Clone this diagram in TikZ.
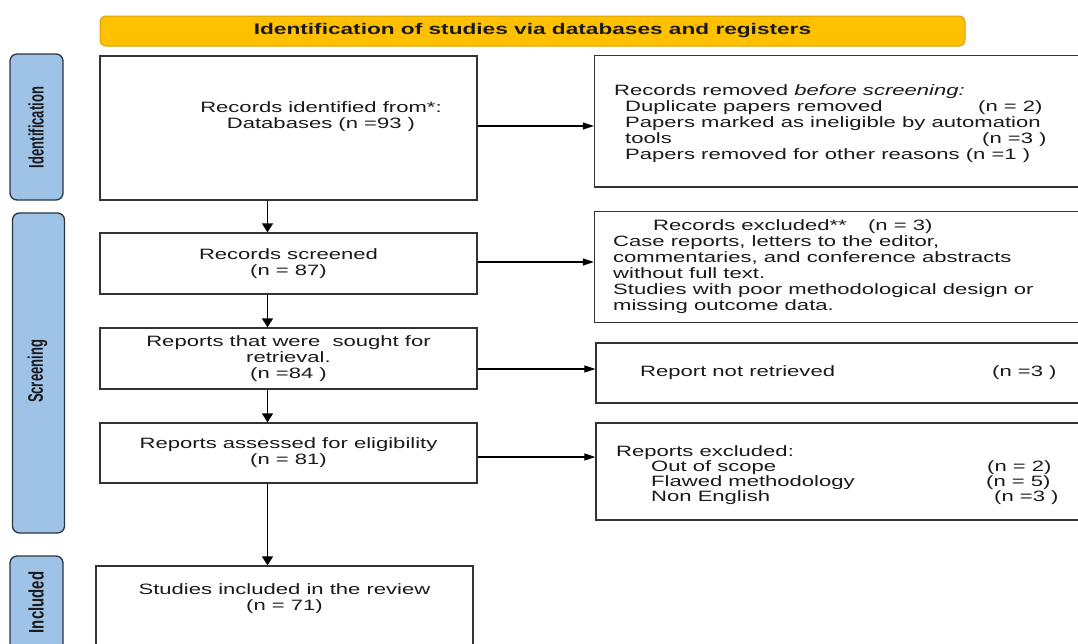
\documentclass[tikz,border=0pt]{standalone}
\usepackage{fontspec}
\setmainfont{Liberation Sans}[FakeStretch=1.47]
\newfontfamily\lblfont{Liberation Sans}[FakeStretch=0.62]
\usetikzlibrary{arrows.meta}
\definecolor{lblfill}{HTML}{9FC3E7}
\definecolor{lbldraw}{HTML}{2B3540}
\definecolor{banfill}{HTML}{FFC000}
\definecolor{bandraw}{HTML}{D9A300}
\definecolor{boxdraw}{HTML}{333333}
\definecolor{txtc}{HTML}{1A1A1A}
\tikzset{
  box/.style={draw=boxdraw, line width=1.3pt, fill=white, inner sep=0pt, rectangle},
  lbl/.style={draw=lbldraw, line width=1.3pt, fill=lblfill, rounded corners=7pt, inner sep=0pt, rectangle},
  lbltxt/.style={rotate=90, inner sep=0pt, text=txtc, font=\lblfont\bfseries\fontsize{21}{21}\selectfont},
  banner/.style={draw=bandraw, line width=1pt, fill=banfill, rounded corners=6pt, inner sep=0pt, rectangle, text=txtc, font=\bfseries\fontsize{15.4}{16}\selectfont},
  txt/.style={inner sep=0pt, text=txtc, font=\fontsize{15}{16}\selectfont},
  harr/.style={-{Triangle[length=11pt,width=7pt]}, line width=1.2pt, draw=black},
  varr/.style={-{Triangle[length=9pt,width=11pt]}, line width=1.4pt, draw=black},
}
\begin{document}
\begin{tikzpicture}[x=1pt,y=-1pt]
\useasboundingbox (0,0) rectangle (1078,643);
\clip (0,0) rectangle (1078,643);
\fill[white] (0,0) rectangle (1078,643);

% banner
\node[banner, minimum width=865pt, minimum height=30pt] (ban) at (532.5,31) {Identification of studies via databases and registers};

% side labels
\node[lbl, minimum width=53pt, minimum height=146pt] (lab1) at (36.5,127) {};
\node[lbltxt] (lab1t) at (36,127.5) {Identification};
\node[lbl, minimum width=52pt, minimum height=320pt] (lab2) at (38.5,373) {};
\node[lbltxt] (lab2t) at (37.5,371.5) {Screening};
\node[lbl, minimum width=53pt, minimum height=110pt] (lab3) at (36.5,611) {};
\node[lbltxt] (lab3t) at (36,602.5) {\scalebox{1.15}[1]{Included}};

% main column
\node[box, minimum width=377pt, minimum height=144pt] (b1) at (288.5,128) {};
\node[txt, align=center] (b1t) at (321,117) {Records identified from*:\\Databases (n =93 )};
\node[box, minimum width=377pt, minimum height=61pt, align=center, txt] (b2) at (288.5,263.5) {Records screened\\(n = 87)};
\node[box, minimum width=377pt, minimum height=61pt, align=center, txt] (b3) at (288.5,358.5) {Reports that were~ sought for\\retrieval.\\(n =84 )};
\node[box, minimum width=377pt, minimum height=60pt, align=center, txt] (b4) at (288.5,453) {Reports assessed for eligibility\\(n = 81)};
\node[box, minimum width=377pt, minimum height=104pt] (b5) at (284.5,618) {};
\node[txt, align=center] (b5t) at (284.5,598.5) {Studies included in the review\\(n = 71)};

% right column
\node[box, minimum width=495.5pt, minimum height=131.5pt] (r1) at (842.25,121.25) {};
\node[txt, align=left, anchor=north west] (r1t) at (614,84.2) {Records removed \textit{before screening:}\\
\hspace*{11pt}\makebox[353pt][l]{Duplicate papers removed}(n = 2)\\
\hspace*{11pt}Papers marked as ineligible by automation\\
\hspace*{11pt}\makebox[357pt][l]{tools}(n =3 )\\
\hspace*{11pt}Papers removed for other reasons (n =1 )};

\node[box, minimum width=495.5pt, minimum height=111pt] (r2) at (842.25,266.8) {};
\node[txt, align=left, anchor=north west] (r2t) at (613,219.3) {\hspace*{40pt}\makebox[215pt][l]{Records excluded**}(n = 3)\\
Case reports, letters to the editor,\\
commentaries, and conference abstracts\\
without full text.\\
Studies with poor methodological design or\\
missing outcome data.};

\node[box, minimum width=494pt, minimum height=60pt] (r3) at (843,373) {};
\node[txt, anchor=west] (r3t) at (640,373) {\makebox[352pt][l]{Report not retrieved}(n =3 )};

\node[box, minimum width=494pt, minimum height=97pt] (r4) at (843,471.5) {};
\node[txt, align=left, anchor=north west, font=\fontsize{15}{15}\selectfont] (r4t) at (616,445.4) {Reports excluded:\\
\hspace*{35pt}\makebox[336pt][l]{Out of scope}(n = 2)\\
\hspace*{35pt}\makebox[335pt][l]{Flawed methodology}(n = 5)\\
\hspace*{35pt}\makebox[343pt][l]{Non English}(n =3 )};

% vertical arrows
\draw[varr] ([xshift=-21pt]b1.south) coordinate (v1) -- (v1 |- b2.north);
\draw[varr] ([xshift=-21pt]b2.south) coordinate (v2) -- (v2 |- b3.north);
\draw[varr] ([xshift=-21pt]b3.south) coordinate (v3) -- (v3 |- b4.north);
\draw[varr] ([xshift=-21pt]b4.south) coordinate (v4) -- (v4 |- b5.north);

% horizontal arrows
\draw[harr] ([yshift=2pt]b1.east) coordinate (h1) -- (h1 -| r1.west);
\draw[harr] ([yshift=1.5pt]b2.east) coordinate (h2) -- (h2 -| r2.west);
\draw[harr] ([yshift=-10.5pt]b3.east) coordinate (h3) -- (h3 -| r3.west);
\draw[harr] ([yshift=-4pt]b4.east) coordinate (h4) -- (h4 -| r4.west);
\end{tikzpicture}
\end{document}
